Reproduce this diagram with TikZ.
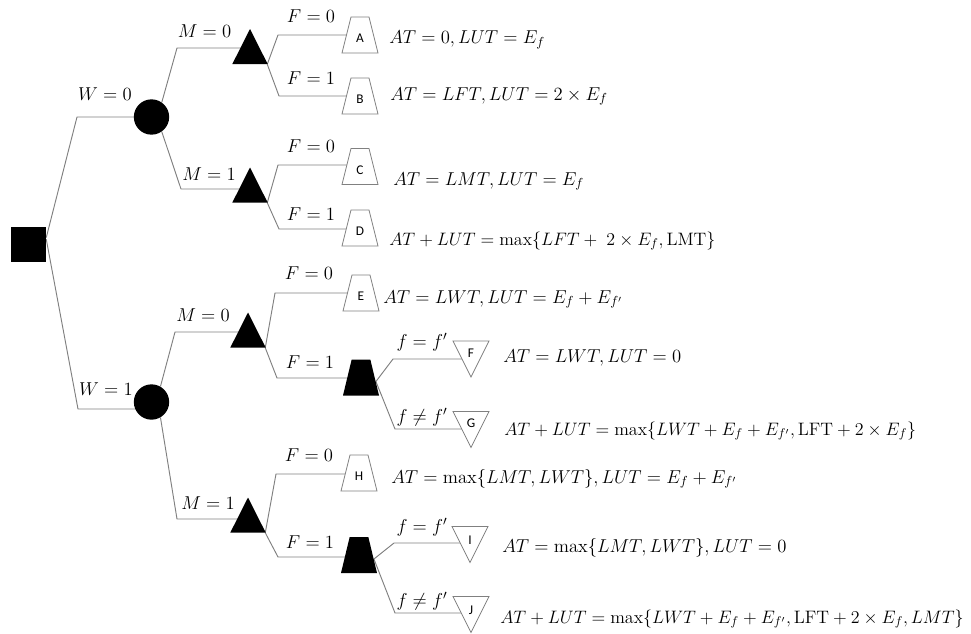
\RequirePackage{fix-cm}
\documentclass[tikz,border=0pt]{standalone}
\usepackage{fontspec}
\newfontfamily\carlito{Carlito}
\usetikzlibrary{backgrounds}
\definecolor{linegray}{RGB}{128,128,128}
\tikzset{
  conn/.style={draw=linegray, line width=0.7pt},
  sqnode/.style={rectangle, fill=black, minimum size=26.25pt, inner sep=0pt},
  chance/.style={circle, fill=black, minimum size=26.5pt, inner sep=0pt},
  tri/.style={rectangle, inner sep=0pt, minimum width=26.5pt, minimum height=26.25pt,
    path picture={\fill[black] (path picture bounding box.south west)
      -- (path picture bounding box.north) -- (path picture bounding box.south east) -- cycle;}},
  btrap/.style={rectangle, inner sep=0pt, minimum width=27pt, minimum height=27pt,
    path picture={\fill[black] (path picture bounding box.south west)
      -- ([xshift=-7pt]path picture bounding box.north)
      -- ([xshift=7pt]path picture bounding box.north)
      -- (path picture bounding box.south east) -- cycle;}},
  endtrap/.style={rectangle, inner sep=0pt, minimum width=28pt, minimum height=28pt,
    path picture={\filldraw[fill=white, draw=linegray, line width=0.6pt]
      ([shift={(0.5pt,0.5pt)}]path picture bounding box.south west)
      -- ([shift={(-6.75pt,-0.5pt)}]path picture bounding box.north)
      -- ([shift={(6.75pt,-0.5pt)}]path picture bounding box.north)
      -- ([shift={(-0.5pt,0.5pt)}]path picture bounding box.south east) -- cycle;}},
  endtri/.style={rectangle, inner sep=0pt, minimum width=28pt, minimum height=28pt,
    path picture={\filldraw[fill=white, draw=linegray, line width=0.6pt]
      ([shift={(0.5pt,-0.5pt)}]path picture bounding box.north west)
      -- ([yshift=0.5pt]path picture bounding box.south)
      -- ([shift={(-0.5pt,-0.5pt)}]path picture bounding box.north east) -- cycle;}},
  ltr/.style={font=\carlito\fontsize{10}{12}\selectfont, inner sep=0pt},
  lbl/.style={font=\fontsize{14}{16}\selectfont, inner sep=0pt},
  res/.style={font=\fontsize{14}{16}\selectfont, inner sep=0pt, anchor=base west},
  reslong/.style={res, font=\fontsize{13.5}{16}\selectfont}
}
\begin{document}
\begin{tikzpicture}[x=0.75pt,y=-0.75pt]
\useasboundingbox (0,0) rectangle (971,633);

% decision and chance nodes
\node[sqnode] (root) at (28.5,244) {};
\node[chance] (c0) at (151.5,117) {};
\node[chance] (c1) at (151.5,402) {};
\node[tri] (t00) at (250,46.5) {};
\node[tri] (t01) at (250,185) {};
\node[tri] (t10) at (248,330) {};
\node[tri] (t11) at (248,515) {};
\node[btrap] (bt0) at (361,377.5) {};
\node[btrap] (bt1) at (359,555) {};

% end nodes
\node[endtrap, label={[ltr,yshift=-2.5pt]center:A}] (A) at (360,35) {};
\node[endtrap, label={[ltr,yshift=-2.5pt]center:B}] (B) at (360,96) {};
\node[endtrap, label={[ltr,yshift=-2.5pt]center:C}] (C) at (360,166.5) {};
\node[endtrap, label={[ltr,yshift=-2.5pt]center:D}] (D) at (360,228) {};
\node[endtrap, label={[ltr,yshift=-2.5pt]center:E}] (E) at (361,293) {};
\node[endtrap, label={[ltr,yshift=-2.5pt]center:H}] (H) at (359,473) {};
\node[endtri, label={[ltr,yshift=4pt]center:F}] (F) at (471,359) {};
\node[endtri, label={[ltr,yshift=4.5pt]center:G}] (G) at (471,429.5) {};
\node[endtri, label={[ltr,yshift=3.5pt]center:I}] (I) at (470,544.5) {};
\node[endtri, label={[ltr,yshift=3.5pt]center:J}] (J) at (471,614.5) {};

% elbow points
\coordinate (eW0) at (77,117);
\coordinate (eW1) at (78,409);
\coordinate (eM00) at (177,48);
\coordinate (eM01) at (181,189);
\coordinate (eF000) at (278,35);
\coordinate (eF001) at (279,96);
\coordinate (eF010) at (278,165);
\coordinate (eF011) at (279,229);
\coordinate (eM10) at (175,332);
\coordinate (eM11) at (177,519);
\coordinate (eF100) at (275,293);
\coordinate (eF101) at (277,378);
\coordinate (ef1) at (393,359);
\coordinate (ef2) at (395,429);
\coordinate (eF110) at (276,474);
\coordinate (eF111) at (278,557);
\coordinate (ef3) at (394,543);
\coordinate (ef4) at (395,613);

\begin{scope}[on background layer]
\fill[white] (0,0) rectangle (971,633);
\draw[conn] (root.20) -- (eW0) -- (eW0 -| c0);
\draw[conn] (root.15) -- (eW1) -- (eW1 -| c1);
\draw[conn] (c0.55) -- (eM00) -- (eM00 -| t00);
\draw[conn] (c0.-55) -- (eM01) -- (eM01 -| t01);
\draw[conn] ([xshift=-0.5pt]t00.south east) -- (eF000) -- (eF000 -| A);
\draw[conn] ([xshift=-0.5pt]t00.south east) -- (eF001) -- (eF001 -| B);
\draw[conn] ([xshift=-0.5pt]t01.south east) -- (eF010) -- (eF010 -| C);
\draw[conn] ([xshift=-0.5pt]t01.south east) -- (eF011) -- (eF011 -| D);
\draw[conn] (c1.60) -- (eM10) -- (eM10 -| t10);
\draw[conn] (c1.-60) -- (eM11) -- (eM11 -| t11);
\draw[conn] ([xshift=-0.5pt]t10.south east) -- (eF100) -- (eF100 -| E);
\draw[conn] ([xshift=-0.5pt]t10.south east) -- (eF101) -- (eF101 -| bt0);
\draw[conn] ([shift={(-2.5pt,-3pt)}]bt0.east) -- (ef1) -- (ef1 -| F);
\draw[conn] ([shift={(-2.5pt,-3pt)}]bt0.east) -- (ef2) -- (ef2 -| G);
\draw[conn] ([xshift=-0.5pt]t11.south east) -- (eF110) -- (eF110 -| H);
\draw[conn] ([xshift=-0.5pt]t11.south east) -- (eF111) -- (eF111 -| bt1);
\draw[conn] ([shift={(-2.5pt,-3pt)}]bt1.east) -- (ef3) -- (ef3 -| I);
\draw[conn] ([shift={(-2.5pt,-3pt)}]bt1.east) -- (ef4) -- (ef4 -| J);
\end{scope}

% branch labels
\node[lbl] (lW0) at (105,94) {$W=0$};
\node[lbl] (lW1) at (106,389.5) {$W=1$};
\node[lbl] (lM00) at (204.5,31.5) {$M=0$};
\node[lbl] (lM01) at (209,174) {$M=1$};
\node[lbl] (lM10) at (203,315) {$M=0$};
\node[lbl] (lM11) at (208,503) {$M=1$};
\node[lbl] (lF000) at (311,16) {$F=0$};
\node[lbl] (lF001) at (311,78) {$F=1$};
\node[lbl] (lF010) at (311,146.5) {$F=0$};
\node[lbl] (lF011) at (311,214) {$F=1$};
\node[lbl] (lF100) at (309,273) {$F=0$};
\node[lbl] (lF101) at (310,362) {$F=1$};
\node[lbl] (lF110) at (309,455) {$F=0$};
\node[lbl] (lF111) at (310,542) {$F=1$};
\node[lbl] (lf1) at (422,342) {$f=f'$};
\node[lbl] (lf2) at (422,417) {$f\neq f'$};
\node[lbl] (lf3) at (422,527) {$f=f'$};
\node[lbl] (lf4) at (422,601) {$f\neq f'$};

% outcomes
\node[res] (rA) at (389,43.3) {$AT=0,LUT=E_f$};
\node[res] (rB) at (390,100) {$AT=LFT,LUT=2\times E_f$};
\node[res] (rC) at (393,185) {$AT=LMT,LUT=E_f$};
\node[reslong] (rD) at (389,245) {$AT+LUT=\max\{LFT+\;2\times E_f,\mathrm{LMT}\}$};
\node[res] (rE) at (383,303) {$AT=LWT,LUT=E_f+E_{f'}$};
\node[res] (rF) at (503,362) {$AT=LWT,LUT=0$};
\node[reslong] (rG) at (504,435) {$AT+LUT=\max\{LWT+E_f+E_{f'},\mathrm{LFT}+2\times E_f\}$};
\node[res] (rH) at (391,483) {$AT=\max\{LMT,LWT\},LUT=E_f+E_{f'}$};
\node[res] (rI) at (502,552) {$AT=\max\{LMT,LWT\},LUT=0$};
\node[reslong] (rJ) at (500,623) {$AT+LUT=\max\{LWT+E_f+E_{f'},\mathrm{LFT}+2\times E_f,LMT\}$};
\end{tikzpicture}
\end{document}
